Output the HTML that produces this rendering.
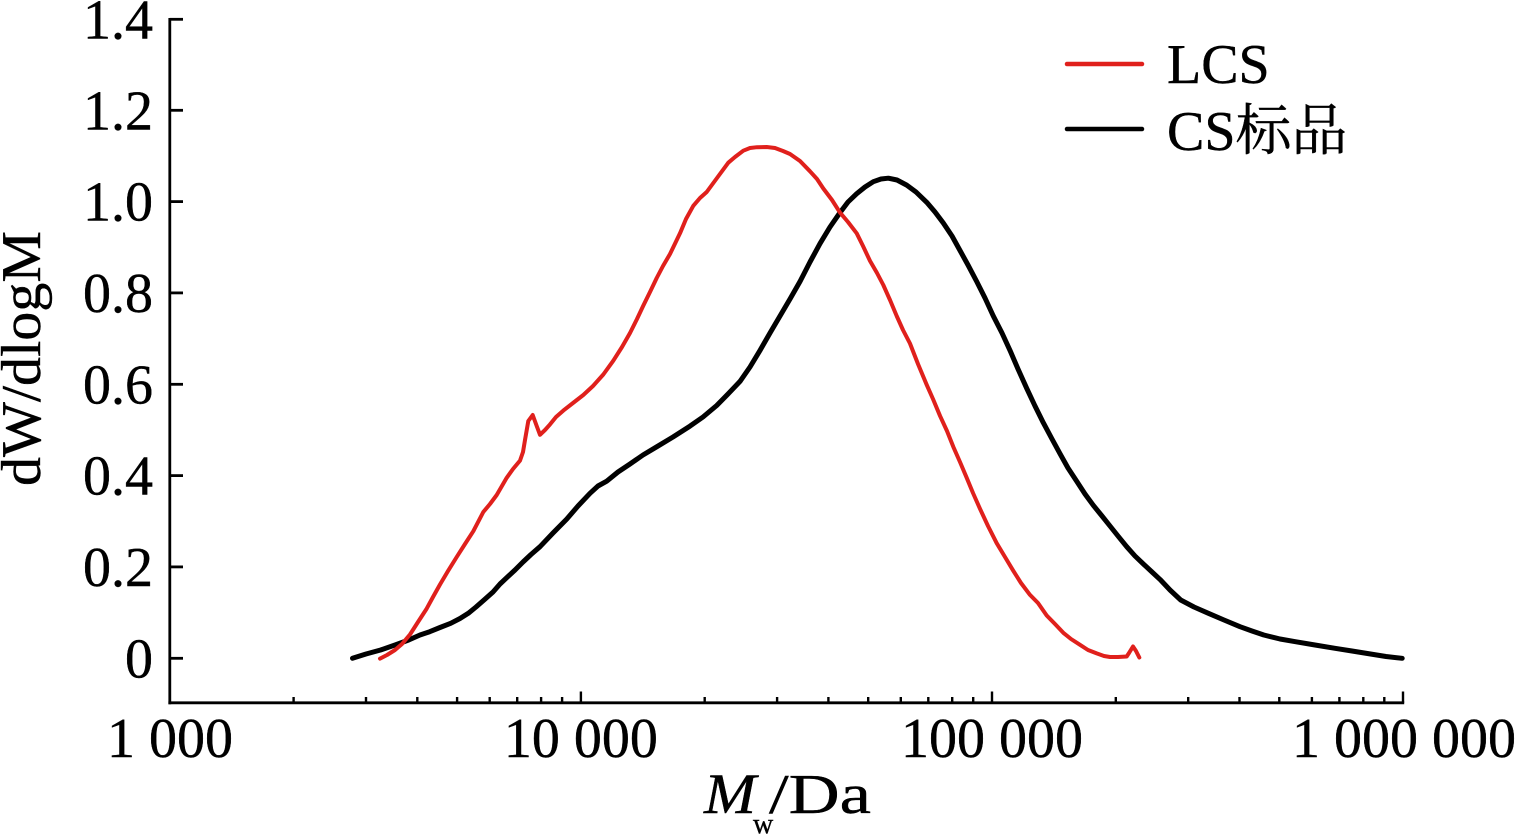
<!DOCTYPE html>
<html><head><meta charset="utf-8"><style>
html,body{margin:0;padding:0;background:#fff;}
svg{display:block;}
text{font-family:"Liberation Serif","Noto Serif CJK SC","Noto Sans CJK SC",serif;fill:#000;stroke:#000;stroke-width:0.4;}
</style></head><body>
<svg width="1520" height="834" viewBox="0 0 1520 834" xmlns="http://www.w3.org/2000/svg">
<rect width="1520" height="834" fill="#fff"/>
<!-- axes -->
<g stroke="#000" stroke-width="2.8" fill="none">
<line x1="169.8" y1="18" x2="169.8" y2="704.2"/>
<line x1="168.4" y1="702.8" x2="1404.2" y2="702.8"/>
<!-- y ticks -->
<line x1="169.8" y1="658.3" x2="183" y2="658.3"/>
<line x1="169.8" y1="566.9" x2="183" y2="566.9"/>
<line x1="169.8" y1="475.6" x2="183" y2="475.6"/>
<line x1="169.8" y1="384.3" x2="183" y2="384.3"/>
<line x1="169.8" y1="292.9" x2="183" y2="292.9"/>
<line x1="169.8" y1="201.6" x2="183" y2="201.6"/>
<line x1="169.8" y1="110.3" x2="183" y2="110.3"/>
<line x1="169.8" y1="19.3" x2="183" y2="19.3"/>
</g>
<g stroke="#000" stroke-width="2.4" fill="none">
<!-- major x ticks -->
<line x1="580.9" y1="702.8" x2="580.9" y2="691.5"/>
<line x1="992" y1="702.8" x2="992" y2="691.5"/>
<line x1="1403" y1="702.8" x2="1403" y2="691.5"/>
<!-- minor -->
<line x1="293.6" y1="702.8" x2="293.6" y2="697"/>
<line x1="366" y1="702.8" x2="366" y2="697"/>
<line x1="417.3" y1="702.8" x2="417.3" y2="697"/>
<line x1="457.1" y1="702.8" x2="457.1" y2="697"/>
<line x1="489.7" y1="702.8" x2="489.7" y2="697"/>
<line x1="517.2" y1="702.8" x2="517.2" y2="697"/>
<line x1="541.1" y1="702.8" x2="541.1" y2="697"/>
<line x1="562.1" y1="702.8" x2="562.1" y2="697"/>
<line x1="704.7" y1="702.8" x2="704.7" y2="697"/>
<line x1="777.1" y1="702.8" x2="777.1" y2="697"/>
<line x1="828.4" y1="702.8" x2="828.4" y2="697"/>
<line x1="868.2" y1="702.8" x2="868.2" y2="697"/>
<line x1="900.8" y1="702.8" x2="900.8" y2="697"/>
<line x1="928.3" y1="702.8" x2="928.3" y2="697"/>
<line x1="952.2" y1="702.8" x2="952.2" y2="697"/>
<line x1="973.2" y1="702.8" x2="973.2" y2="697"/>
<line x1="1115.8" y1="702.8" x2="1115.8" y2="697"/>
<line x1="1188.2" y1="702.8" x2="1188.2" y2="697"/>
<line x1="1239.5" y1="702.8" x2="1239.5" y2="697"/>
<line x1="1279.3" y1="702.8" x2="1279.3" y2="697"/>
<line x1="1311.9" y1="702.8" x2="1311.9" y2="697"/>
<line x1="1339.4" y1="702.8" x2="1339.4" y2="697"/>
<line x1="1363.3" y1="702.8" x2="1363.3" y2="697"/>
<line x1="1384.3" y1="702.8" x2="1384.3" y2="697"/>
</g>
<!-- y tick labels -->
<g font-size="56" text-anchor="end">
<text x="153" y="677.5">0</text>
<text x="153" y="586">0.2</text>
<text x="153" y="494.7">0.4</text>
<text x="153" y="403.4">0.6</text>
<text x="153" y="312">0.8</text>
<text x="153" y="220.7">1.0</text>
<text x="153" y="129.4">1.2</text>
<text x="153" y="38.4">1.4</text>
</g>
<!-- x tick labels -->
<g font-size="56" text-anchor="middle">
<text x="170" y="757">1 000</text>
<text x="580.9" y="757">10 000</text>
<text x="992" y="757">100 000</text>
<text x="1404" y="757">1 000 000</text>
</g>
<!-- axis titles -->
<text x="704" y="813" font-size="57" font-style="italic" textLength="52" lengthAdjust="spacingAndGlyphs">M</text>
<text x="753" y="833" font-size="28">w</text>
<text x="769" y="813" font-size="56" textLength="102" lengthAdjust="spacingAndGlyphs">/Da</text>
<text transform="translate(40,358.5) rotate(-90)" font-size="56" text-anchor="middle" textLength="255" lengthAdjust="spacingAndGlyphs">dW/dlogM</text>
<!-- legend -->
<line x1="1067" y1="64" x2="1142" y2="64" stroke="#e0201c" stroke-width="4.5" stroke-linecap="round"/>
<line x1="1067" y1="129" x2="1142" y2="129" stroke="#000" stroke-width="4.5" stroke-linecap="round"/>
<text x="1167" y="83" font-size="56">LCS</text>
<text x="1167" y="150" font-size="56">CS标品</text>
<!-- black series -->
<polyline fill="none" stroke="#000" stroke-width="5" stroke-linejoin="round" stroke-linecap="round" points="352.5,658.3 366,654 380.6,650 395,645 408.7,640 420,635 429.7,631.7 440,627.5 450.7,623.3 460,618.5 468.3,613.3 476,607 484,600 493,592 500,584 506.7,577.7 515,570 523,562 531,554.5 540,546.7 553,533 566.7,519.1 578,506 590,493.3 598,486 606.7,481.2 618,472 630,464 643,455 656.7,446.8 673,437 690,426.1 703,417 716.7,405.5 728,394 740,381.4 750,367 760,350.4 770,333 780,316 790,299 800,281.5 810,262 820,243.6 830,227 840,212.6 848,202 856.7,193.7 865,187 873.3,181.7 881,179 888.3,178.2 897,180 906.7,185.1 916,192 926.7,202.3 935,212 943.3,223 952,236 960,250.5 968,265 976.7,281.5 985,298 993.3,316 1002,333 1010,350.4 1018,369 1026.7,388.3 1035,406 1043.3,422.7 1052,439 1060,453.7 1068,468 1076.7,481.2 1085,494 1093.3,505.3 1102,516 1110,526 1118,536 1126.7,546.7 1135,556 1143.3,563.9 1152,572 1160,579.4 1170,590 1180.7,600 1194,607 1208.4,613.3 1224,620 1240,626.7 1252,631 1263.8,635 1280,639 1295.4,641.7 1315,645 1335,648.3 1352,651 1370.5,654 1386,656.5 1402.2,658.3"/>
<!-- red series -->
<polyline fill="none" stroke="#e0201c" stroke-width="4" stroke-linejoin="round" stroke-linecap="round" points="380,658.6 387,655 395,650 402,644 410,634.5 418,622 426.7,608.6 433,597 440,584.5 448,571 456.7,557 465,544 473.3,531.2 483.3,512 490,504 496.7,495 506.7,477.8 513,469 520,460.6 523,452 525,440 528.3,421 532.7,415 536.7,426 540,434.8 545,430 550,424.4 556,417 563.3,410.6 573,403 583.3,395 593,386 603.3,374.5 613.3,360.7 622,347 630,333 637,319 643.3,305.6 650,292 656.7,278 663,266 670,254 680,233.3 686,219 693.3,205.8 700,198 706.7,192 717,178 728.3,162.7 735,157 743.3,150.7 750,148 757,147.2 766.7,147 775,148 783,151 790,154 800,161 810,171.3 817,179 823.3,188.5 832,200 840,212.6 848,222 856.7,233.3 863,246 870,260.9 877,273 883.3,285 890,300 896.7,316 903,330 910,343.5 918,364 926.7,384.8 933,399 940,415.8 947,431 953.3,446.8 960,462 966.7,477.8 973,493 980,508.8 988,526 996.7,543.2 1005,557 1013.3,570.8 1021,583 1030,594.9 1038,603 1046.7,615.5 1055,624 1063.3,632.8 1071,639 1080,644.8 1088,650 1096.7,653.4 1104,656 1110,657 1118,657 1126.7,656.5 1129,653 1133,646.5 1136,651 1139.3,657.5"/>
</svg>
</body></html>
